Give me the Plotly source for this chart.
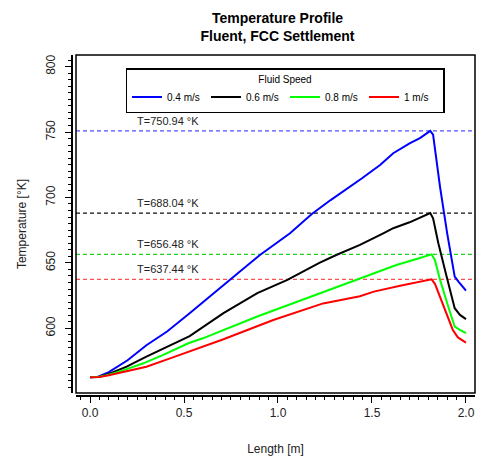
import plotly.graph_objects as go

# ---- data ----
speeds = ["0.4 m/s", "0.6 m/s", "0.8 m/s", "1 m/s"]
colors = ["#0000FF", "#000000", "#00FF00", "#FF0000"]
dash_colors = ["#5050FF", "#111111", "#20D020", "#FF5050"]

len_04 = [0.00, 0.04, 0.10, 0.20, 0.30, 0.41, 0.53, 0.62, 0.745, 0.82, 0.904, 1.064, 1.18, 1.28, 1.447,
          1.543, 1.613, 1.70, 1.755, 1.81, 1.825, 1.862, 1.90, 1.94, 1.96, 2.00]
temp_04 = [562.5, 562.8, 566.5, 575.5, 587.0, 597.5, 611.5, 622.0, 637.0, 646.0, 656.0, 672.6, 687.4, 698.0, 714.7,
           724.8, 733.8, 741.4, 745.3, 750.9, 748.0, 708.0, 672.6, 639.5, 635.6, 628.7]

len_06 = [0.00, 0.05, 0.10, 0.195, 0.30, 0.41, 0.53, 0.71, 0.89, 1.05, 1.22, 1.31, 1.436, 1.56, 1.613,
          1.70, 1.75, 1.81, 1.825, 1.853, 1.897, 1.94, 1.968, 2.00]
temp_06 = [562.5, 563.0, 565.0, 570.6, 578.3, 586.0, 594.0, 611.5, 626.8, 637.0, 650.0, 656.0, 663.7, 672.6, 676.5,
           681.0, 684.0, 688.0, 684.0, 665.0, 639.5, 615.3, 610.2, 607.0]

len_08 = [0.00, 0.05, 0.10, 0.18, 0.284, 0.39, 0.523, 0.60, 0.89, 1.15, 1.42, 1.63, 1.75, 1.817, 1.835,
          1.862, 1.906, 1.94, 1.968, 2.00]
temp_08 = [562.5, 563.0, 564.5, 568.0, 573.2, 579.6, 588.5, 592.3, 609.0, 623.0, 637.5, 648.4, 653.5, 656.5, 652.0,
           637.0, 616.5, 601.2, 598.7, 596.2]

len_10 = [0.00, 0.05, 0.10, 0.20, 0.30, 0.426, 0.523, 0.71, 0.975, 1.24, 1.436, 1.51, 1.65, 1.75, 1.817,
          1.835, 1.862, 1.906, 1.93, 1.957, 1.98, 2.00]
temp_10 = [562.5, 562.8, 564.0, 567.5, 570.6, 577.0, 582.0, 591.6, 606.3, 619.0, 624.5, 628.0, 632.5, 635.5, 637.4,
           634.0, 624.0, 609.0, 598.7, 593.0, 590.5, 589.0]

peak_temps = [750.94, 688.04, 656.48, 637.44]

x_ticks = [0.0, 0.5, 1.0, 1.5, 2.0]
x_tick_text = ["0.0", "0.5", "1.0", "1.5", "2.0"]
y_ticks = [600, 650, 700, 750, 800]

FONT = "Arial, Liberation Sans, sans-serif"

fig = go.Figure()
for name, c, xs, ys in zip(speeds, colors, [len_04, len_06, len_08, len_10], [temp_04, temp_06, temp_08, temp_10]):
    fig.add_trace(go.Scatter(x=xs, y=ys, mode="lines", name=name,
                             line=dict(color=c, width=2)))

# dashed reference lines + labels
for v, dc in zip(peak_temps, dash_colors):
    fig.add_shape(type="line", xref="x domain", yref="y", x0=0, x1=1, y0=v, y1=v,
                  line=dict(color=dc, width=1.2, dash="4px,3px"), layer="below")
    fig.add_annotation(xref="x domain", yref="y", x=0.148, y=v, text=f"T={v:.2f} °K",
                       showarrow=False, xanchor="left", yanchor="bottom", yshift=2,
                       font=dict(family=FONT, size=11, color="#222"))

# plot box
fig.add_shape(type="rect", xref="x domain", yref="y domain", x0=0, x1=1, y0=0, y1=1,
              line=dict(color="black", width=1.5), layer="above")

W, H = 480, 462
L, R, T, B = 72, 5, 55, 66
pw, ph = W - L - R, H - T - B

fig.update_layout(
    width=W, height=H,
    margin=dict(l=L, r=R, t=T, b=B),
    paper_bgcolor="white", plot_bgcolor="white",
    font=dict(family=FONT, size=12, color="#222"),
    title=dict(text="<b>Temperature Profile<br>Fluent, FCC Settlement</b>",
               x=(L + pw * 0.51) / W, xanchor="center", y=1 - 23 / H, yanchor="middle",
               font=dict(family=FONT, size=14, color="black")),
    showlegend=True,
    legend=dict(orientation="h", x=(285 - L) / pw, xanchor="center", y=(396 - 68) / ph, yanchor="top",
                bordercolor="black", borderwidth=1.5, bgcolor="white",
                font=dict(family=FONT, size=10, color="black"),
                title=dict(text="Fluid Speed", side="top center", font=dict(family=FONT, size=10)),
                entrywidth=34, entrywidthmode="pixels", itemwidth=30),
    xaxis=dict(domain=[4 / pw, 1], range=[-0.0745, 2.048], anchor="free", position=0,
               showgrid=False, zeroline=False, showline=True, linecolor="black", linewidth=1.5,
               ticks="outside", ticklen=6, tickwidth=1.2, tickcolor="black",
               tickvals=x_ticks, ticktext=x_tick_text, tickfont=dict(size=12),
               minor=dict(dtick=0.05, tick0=0, ticks="outside", ticklen=3, tickcolor="black", tickwidth=1),
               title=dict(text="Length [m]", standoff=24, font=dict(size=12))),
    yaxis=dict(domain=[3 / ph, 1], range=[550.5, 808.9], anchor="free", position=0,
               showgrid=False, zeroline=False, showline=True, linecolor="black", linewidth=1.5,
               ticks="outside", ticklen=6, tickwidth=1.2, tickcolor="black",
               tickvals=y_ticks, tickangle=-90, tickfont=dict(size=12), ticklabelstandoff=5,
               minor=dict(dtick=5, tick0=0, ticks="outside", ticklen=3, tickcolor="black", tickwidth=1),
               title=dict(text="Temperature [°K]", standoff=14, font=dict(size=12))),
)

fig.write_html("out.html")
